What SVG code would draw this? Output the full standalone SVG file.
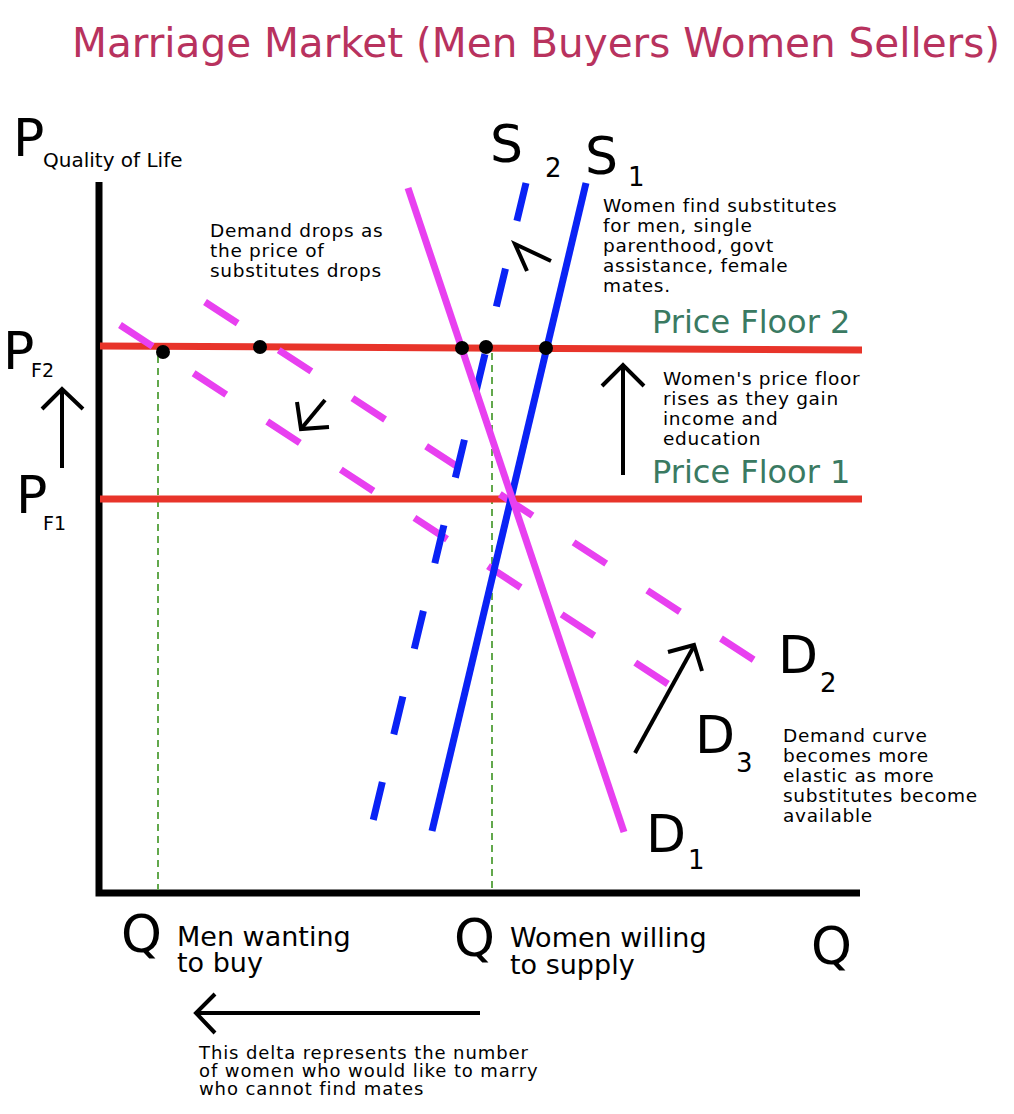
<svg xmlns="http://www.w3.org/2000/svg" width="1014" height="1114" viewBox="0 0 1014 1114">
<style>
text{font-family:"DejaVu Sans","Liberation Sans",sans-serif;fill:#000}
.title{font-size:40.5px;fill:#b8325e}
.big{font-size:52px}
.sub{font-size:26px}
.note{font-size:18.5px;letter-spacing:0.7px}
.small{font-size:18px;letter-spacing:0.9px}
.pf{font-size:32px;fill:#3a7a62}
.ql{font-size:27px}
.red{stroke:#e8342a;stroke-width:7;fill:none}
.blue{stroke:#0a22f5;stroke-width:7;fill:none}
.mag{stroke:#e840f0;stroke-width:7;fill:none}
.dash{stroke-dasharray:39 49}
.guide{stroke:#62a84c;stroke-width:2;stroke-dasharray:7 5;fill:none}
.arr{stroke:#000;stroke-width:4;fill:none;stroke-linecap:butt}
.dot{fill:#000}
</style>
<rect width="1014" height="1114" fill="#fff"/>
<text class="title" x="72" y="57">Marriage Market (Men Buyers Women Sellers)</text>

<g id="axes">
<polyline points="99,182 99,893 860,893" fill="none" stroke="#000" stroke-width="7"/>
<text class="big" x="13" y="156">P</text>
<text x="43" y="167" font-size="20">Quality of Life</text>
<text class="big" x="121" y="952">Q</text>
<text class="big" x="454" y="956">Q</text>
<text class="big" x="811" y="964">Q</text>
</g>

<g id="guides">
<line class="guide" x1="158" y1="356" x2="158" y2="890"/>
<line class="guide" x1="492" y1="353" x2="492" y2="890"/>
</g>

<g id="price-floor-1">
<line class="red" x1="100" y1="499" x2="862" y2="499"/>
<text class="pf" x="652" y="483">Price Floor 1</text>
<text class="big" x="16" y="513">P</text>
<text x="43" y="530" font-size="19">F1</text>
</g>

<g id="price-floor-2">
<line class="red" x1="100" y1="346" x2="862" y2="350"/>
<text class="pf" x="652" y="333">Price Floor 2</text>
<text class="big" x="3" y="369">P</text>
<text x="31" y="377" font-size="19">F2</text>
</g>

<g id="D2">
<line class="mag dash" x1="205" y1="302" x2="757" y2="662"/>
<text class="big" x="778" y="673">D</text>
<text class="sub" x="820" y="692">2</text>
</g>

<g id="D3">
<line class="mag dash" x1="120" y1="325" x2="671" y2="686"/>
<text class="big" x="695" y="753">D</text>
<text class="sub" x="736" y="772">3</text>
</g>

<g id="S2">
<line class="blue dash" x1="526" y1="183" x2="373" y2="821"/>
<text class="big" x="490" y="162">S</text>
<text class="sub" x="545" y="177">2</text>
</g>

<g id="S1">
<line class="blue" x1="586" y1="183" x2="432" y2="831"/>
<text class="big" x="585" y="174">S</text>
<text class="sub" x="628" y="186">1</text>
</g>

<g id="D1">
<line class="mag" x1="408" y1="188" x2="624" y2="832"/>
<text class="big" x="646" y="852">D</text>
<text class="sub" x="688" y="869">1</text>
</g>

<g id="points">
<circle class="dot" cx="163" cy="352" r="7"/>
<circle class="dot" cx="260" cy="347" r="7"/>
<circle class="dot" cx="462" cy="348" r="7"/>
<circle class="dot" cx="486" cy="347" r="7"/>
<circle class="dot" cx="546" cy="348" r="7"/>
</g>

<g id="connectors">
<polyline class="arr" points="551,261 515,244 527,271"/>
<line class="arr" x1="325" y1="400" x2="301" y2="429"/>
<polyline class="arr" points="297,402 301,429 329,427"/>
<line class="arr" x1="62" y1="468" x2="62" y2="392"/>
<polyline class="arr" points="42,409 62,389 83,409"/>
<line class="arr" x1="623" y1="475" x2="623" y2="367"/>
<polyline class="arr" points="602,386 623,365 644,386"/>
<line class="arr" x1="635" y1="753" x2="694" y2="646"/>
<polyline class="arr" points="668,652 694,645 702,671"/>
<line class="arr" x1="480" y1="1013" x2="197" y2="1013"/>
<polyline class="arr" points="215,994 196,1013 215,1033"/>
</g>

<g id="note-demand-drops">
<text class="note" x="210" y="237">Demand drops as</text>
<text class="note" x="210" y="257">the price of</text>
<text class="note" x="210" y="277">substitutes drops</text>
</g>

<g id="note-women-substitutes">
<text class="note" x="603" y="212">Women find substitutes</text>
<text class="note" x="603" y="232">for men, single</text>
<text class="note" x="603" y="252">parenthood, govt</text>
<text class="note" x="603" y="272">assistance, female</text>
<text class="note" x="603" y="292">mates.</text>
</g>

<g id="note-price-floor">
<text class="note" x="663" y="385">Women's price floor</text>
<text class="note" x="663" y="405">rises as they gain</text>
<text class="note" x="663" y="425">income and</text>
<text class="note" x="663" y="445">education</text>
</g>

<g id="note-elastic">
<text class="note" x="783" y="742">Demand curve</text>
<text class="note" x="783" y="762">becomes more</text>
<text class="note" x="783" y="782">elastic as more</text>
<text class="note" x="783" y="802">substitutes become</text>
<text class="note" x="783" y="822">available</text>
</g>

<g id="q-labels">
<text class="ql" x="177" y="946">Men wanting</text>
<text class="ql" x="177" y="972">to buy</text>
<text class="ql" x="510" y="947">Women willing</text>
<text class="ql" x="510" y="974">to supply</text>
</g>

<g id="note-delta">
<text class="small" x="199" y="1059">This delta represents the number</text>
<text class="small" x="199" y="1077">of women who would like to marry</text>
<text class="small" x="199" y="1095">who cannot find mates</text>
</g>
</svg>
